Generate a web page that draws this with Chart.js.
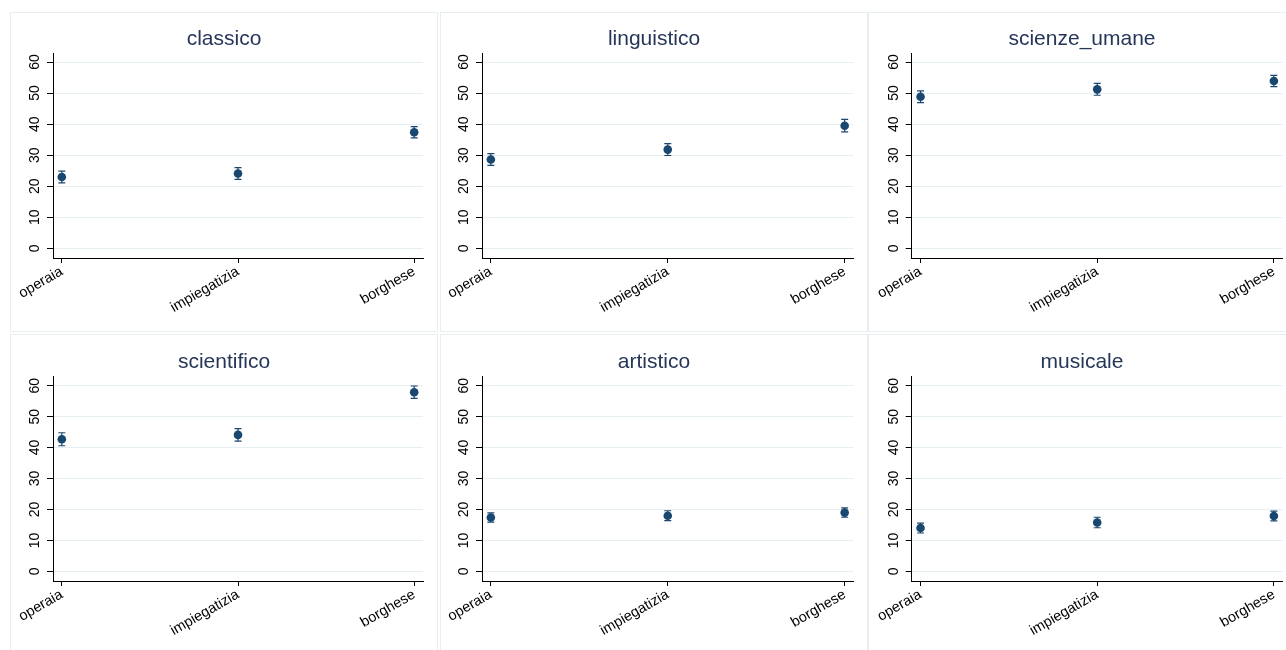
<!DOCTYPE html>
<html>
<head>
<meta charset="utf-8">
<script src="https://cdn.jsdelivr.net/npm/chart.js@4/dist/chart.umd.min.js"></script>
<style>
  html, body { margin: 0; padding: 0; background: #fff; overflow: hidden; width: 1286px; height: 650px; }
  .panel { position: absolute; box-sizing: border-box; border: 1px solid #e6eef0; }
  canvas { position: absolute; left: -1px; top: -1px; }
</style>
</head>
<body>
<script>
// Social class of the family (x categories)
const categories = ['operaia', 'impiegatizia', 'borghese'];
const yTickValues = [0, 10, 20, 30, 40, 50, 60];

// Estimated share (%) by type of liceo, with 95% confidence bounds
const classicoMean = [23.0, 24.1, 37.4];
const classicoLo   = [21.1, 22.2, 35.6];
const classicoHi   = [24.9, 26.0, 39.2];

const linguisticoMean = [28.6, 31.8, 39.5];
const linguisticoLo   = [26.7, 29.9, 37.5];
const linguisticoHi   = [30.5, 33.7, 41.5];

const scienzeUmaneMean = [48.8, 51.2, 53.9];
const scienzeUmaneLo   = [46.9, 49.3, 52.1];
const scienzeUmaneHi   = [50.7, 53.1, 55.7];

const scientificoMean = [42.7, 44.1, 57.9];
const scientificoLo   = [40.6, 42.1, 55.9];
const scientificoHi   = [44.8, 46.1, 59.9];

const artisticoMean = [17.4, 18.0, 19.0];
const artisticoLo   = [15.9, 16.4, 17.5];
const artisticoHi   = [18.9, 19.6, 20.5];

const musicaleMean = [14.0, 15.8, 17.9];
const musicaleLo   = [12.4, 14.1, 16.3];
const musicaleHi   = [15.6, 17.5, 19.5];

const panels = [
  { title: 'classico',      mean: classicoMean,     lo: classicoLo,     hi: classicoHi },
  { title: 'linguistico',   mean: linguisticoMean,  lo: linguisticoLo,  hi: linguisticoHi },
  { title: 'scienze_umane', mean: scienzeUmaneMean, lo: scienzeUmaneLo, hi: scienzeUmaneHi },
  { title: 'scientifico',   mean: scientificoMean,  lo: scientificoLo,  hi: scientificoHi },
  { title: 'artistico',     mean: artisticoMean,    lo: artisticoLo,    hi: artisticoHi },
  { title: 'musicale',      mean: musicaleMean,     lo: musicaleLo,     hi: musicaleHi }
];

// Grid geometry of the combined figure
const colLeft  = [10, 440, 868];
const rowTop   = [12, 334];
const PW = 428, PH = 320;
const yAxisW   = [43, 42, 43.7];   // y axis band width per column
const rightPad = [15, 14.5, 13.3]; // space right of plot per column
const plotTop  = [41, 42.7];       // title band per row
const titleMid = [27.4, 28.4];
const plotBot  = [246, 247];

const NAVY = '#1a476f';
const FONT = "'Liberation Sans', Arial, Helvetica, sans-serif";

// Error bars (rcap) drawn through the chart's own scales
const errorBars = {
  id: 'errorBars',
  beforeDatasetsDraw(chart, args, opts) {
    const { ctx, scales: { x, y } } = chart;
    ctx.save();
    ctx.strokeStyle = NAVY;
    ctx.lineWidth = 1.2;
    opts.lo.forEach((lo, i) => {
      const px = x.getPixelForValue(i + 1);
      const pLo = y.getPixelForValue(lo);
      const pHi = y.getPixelForValue(opts.hi[i]);
      ctx.beginPath();
      ctx.moveTo(px, pLo); ctx.lineTo(px, pHi);
      ctx.moveTo(px - 3.5, pLo); ctx.lineTo(px + 3.5, pLo);
      ctx.moveTo(px - 3.5, pHi); ctx.lineTo(px + 3.5, pHi);
      ctx.stroke();
    });
    ctx.restore();
  }
};

// Vertical (bottom-to-top) y tick labels, placed on the y scale's ticks
const verticalYLabels = {
  id: 'verticalYLabels',
  afterDraw(chart) {
    const { ctx } = chart;
    const y = chart.scales.y;
    ctx.save();
    ctx.fillStyle = '#000';
    ctx.font = '14px ' + FONT;
    ctx.textAlign = 'center';
    ctx.textBaseline = 'middle';
    y.ticks.forEach(t => {
      const py = y.getPixelForValue(t.value);
      ctx.save();
      ctx.translate(y.right - 17.5, py);
      ctx.rotate(-Math.PI / 2);
      ctx.fillText(String(t.value), 0, 0);
      ctx.restore();
    });
    ctx.restore();
  }
};

panels.forEach((p, k) => {
  const col = k % 3, row = Math.floor(k / 3);
  const div = document.createElement('div');
  div.className = 'panel';
  div.style.left = colLeft[col] + 'px';
  div.style.top = rowTop[row] + 'px';
  div.style.width = PW + 'px';
  div.style.height = PH + 'px';
  const cv = document.createElement('canvas');
  cv.width = PW; cv.height = PH;
  div.appendChild(cv);
  document.body.appendChild(div);

  const titleSize = 21;
  const lh = titleSize;
  const padTop = titleMid[row] - lh / 2;
  const padBot = plotTop[row] - padTop - lh;

  new Chart(cv, {
    type: 'scatter',
    data: {
      datasets: [{
        data: p.mean.map((v, i) => ({ x: i + 1, y: v })),
        backgroundColor: NAVY,
        borderColor: NAVY,
        borderWidth: 0,
        pointRadius: 4.3,
        pointHoverRadius: 4.3
      }]
    },
    options: {
      responsive: false,
      animation: false,
      events: [],
      layout: { padding: 0 },
      plugins: {
        legend: { display: false },
        tooltip: { enabled: false },
        title: {
          display: true,
          text: p.title,
          color: '#263659',
          font: { family: FONT, size: titleSize, weight: 'normal', lineHeight: 1 },
          padding: { top: padTop, bottom: padBot }
        },
        errorBars: { lo: p.lo, hi: p.hi }
      },
      scales: {
        x: {
          type: 'linear',
          min: 0.95,
          max: 3.05,
          afterBuildTicks: s => { s.ticks = categories.map((c, i) => ({ value: i + 1 })); },
          afterFit: s => { s.height = PH - plotBot[row]; s.paddingLeft = 0; s.paddingRight = rightPad[col]; },
          ticks: {
            callback: v => categories[Math.round(v) - 1],
            minRotation: 30,
            maxRotation: 30,
            autoSkip: false,
            padding: 0,
            color: '#000',
            font: { family: FONT, size: 14.5 }
          },
          grid: { drawOnChartArea: false, drawTicks: true, tickLength: 5, tickColor: '#000', tickWidth: 1 },
          border: { display: true, color: '#000', width: 1 }
        },
        y: {
          min: -3.1,
          max: 62.9,
          afterBuildTicks: s => { s.ticks = yTickValues.map(v => ({ value: v })); },
          afterFit: s => { s.width = yAxisW[col]; s.paddingTop = 0; s.paddingBottom = 0; },
          ticks: { display: false },
          grid: { color: '#e6eff1', lineWidth: 1, drawTicks: true, tickLength: 6, tickColor: '#000', tickWidth: 1 },
          border: { display: true, color: '#000', width: 1 }
        }
      }
    },
    plugins: [errorBars, verticalYLabels]
  });
});
</script>
</body>
</html>
